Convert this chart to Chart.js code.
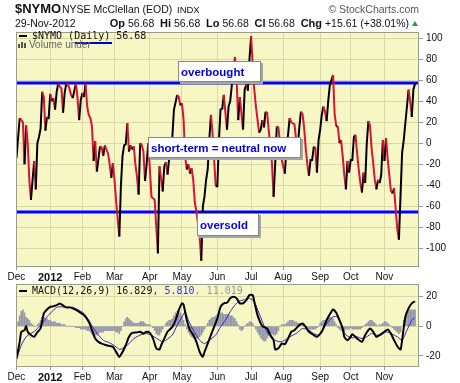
<!DOCTYPE html>
<html><head><meta charset="utf-8">
<script src="https://cdn.jsdelivr.net/npm/chart.js@4/dist/chart.umd.min.js"></script>
<style>
html,body{margin:0;padding:0;background:#fff;}
#wrap{position:relative;width:460px;height:383px;overflow:hidden;font-family:"Liberation Sans",Arial,sans-serif;color:#111;}
canvas{position:absolute;left:0;top:0;}
.t{position:absolute;white-space:nowrap;line-height:1;}
.mono{font-family:"DejaVu Sans Mono",monospace;font-size:10px;}
.box{position:absolute;box-sizing:border-box;background:#fff;border:1px solid #888;box-shadow:2px 2px 0 #a6a6a6;color:#0000e6;font-weight:bold;font-size:11.5px;display:flex;align-items:center;padding-left:2px;white-space:nowrap;z-index:5;}
.dash{position:absolute;background:#000;height:2px;width:8px;z-index:4;}
</style></head>
<body>
<div id="wrap">
<canvas id="c1" width="460" height="383"></canvas>
<canvas id="c2" width="460" height="383"></canvas>

<div class="t" style="left:15px;top:2.3px;font-size:13px;font-weight:bold;">$NYMO</div>
<div class="t" style="left:62px;top:4.4px;font-size:10.5px;">NYSE McClellan (EOD)</div>
<div class="t" style="left:177px;top:5.3px;font-size:9.5px;">INDX</div>
<div class="t" style="right:41px;top:4.4px;font-size:10.5px;color:#555;">© StockCharts.com</div>
<div class="t" style="left:15px;top:17.8px;font-size:10.5px;">29-Nov-2012</div>
<div class="t" style="right:51px;top:17.8px;font-size:10.5px;"><b style="font-size:11px">Op</b> 56.68 &nbsp;<b style="font-size:11px">Hi</b> 56.68 &nbsp;<b style="font-size:11px">Lo</b> 56.68 &nbsp;<b style="font-size:11px">Cl</b> 56.68 &nbsp;<b style="font-size:11px">Chg</b> +15.61 (+38.01%)</div>
<div style="position:absolute;left:412px;top:21px;width:0;height:0;border-left:3px solid transparent;border-right:3px solid transparent;border-bottom:5px solid #339933;"></div>

<div class="dash" style="left:19px;top:34.5px;"></div>
<div class="t mono" style="left:32px;top:30.8px;z-index:4;">$NYMO (Daily) 56.68</div>
<div style="position:absolute;left:75px;top:42px;width:37px;height:2px;background:#0000cc;z-index:4;"></div>
<div style="position:absolute;left:18px;top:44px;width:2px;height:4px;background:#555;z-index:4;"></div>
<div style="position:absolute;left:21px;top:42px;width:2px;height:6px;background:#555;z-index:4;"></div>
<div style="position:absolute;left:24px;top:43px;width:2px;height:5px;background:#555;z-index:4;"></div>
<div class="t" style="left:29px;top:40px;font-size:10px;color:#666;z-index:4;">Volume under</div>

<div class="box" style="left:178px;top:61px;width:83px;height:21px;">overbought</div>
<div class="box" style="left:148px;top:137px;width:153px;height:21px;">short-term = neutral now</div>
<div class="box" style="left:197px;top:213px;width:62px;height:23px;">oversold</div>

<div class="dash" style="left:19px;top:289.5px;"></div>
<div class="t mono" style="left:32px;top:285.7px;z-index:4;">MACD(12,26,9) 16.829<span style="color:#3333cc">, 5.810</span><span style="color:#999">, 11.019</span></div>
</div>

<script>
// ---- data ----
const monthLabels   = ['Dec','2012','Feb','Mar','Apr','May','Jun','Jul','Aug','Sep','Oct','Nov'];
const monthStartDay = [0, 21, 41, 61, 83, 103, 125, 146, 166, 189, 208, 229]; // trading-day index
const mainTicks = [-100,-80,-60,-40,-20,0,20,40,60,80,100];
const macdTicks = [-20,0,20];
const overboughtLevel = 57.5;
const oversoldLevel = -65.5;

const nymoDay = [0,2,3,4,5,6,7,8,9,11,12,13,14,15,16,17,18,19,20,21,22,23,24,25,26,27,28,29,30,31,32,33,34,35,36,37,38,39,40,41,42,43,44,45,46,47,48,49,50,52,53,54,55,56,57,58,59,60,61,62,64,65,66,67,68,69,70,71,72,73,74,75,76,77,78,79,80,81,82,83,84,86,88,89,91,92,93,94,95,96,97,98,100,101,102,103,104,105,106,107,108,109,110,111,112,114,115,116,117,118,119,120,121,122,124,125,126,127,128,129,131,132,133,134,136,137,138,139,141,142,143,144,145,146,147,148,149,151,152,153,154,155,156,157,158,159,160,161,162,163,164,165,166,167,168,169,170,171,172,173,174,175,176,177,178,179,180,181,182,183,184,185,186,187,188,189,190,191,192,193,194,195,196,197,198,199,200,201,202,203,204,205,206,207,208,209,210,211,212,213,214,215,216,217,218,219,220,221,222,223,224,225,226,227,228,229,230,231,232,233,234,235,236,237,238,239,240,241,242,243,244,245,246,247,248];
const nymoVal = [-14,24,22,20,-20,17,0,-35,-54,-17,-44,0,6,14,49,44,12,25,23,47,40,43,32,49,57,54,52,29,48,57,56,52,46,43,50,57,43,22,41,48,44,57,35,27,24,16,-17,2,-27,-3,-4,-12,-2,-6,-10,-20,-33,-19,-35,-55,-89,-40,-12,-2,-1,19,-8,-2,-6,-3,-20,-32,-49,0,-2,-8,-36,-20,0,-24,-51,-54,-105,-22,-46,-22,-18,-30,-15,-6,6,32,46,44,36,38,22,-13,-25,-20,-29,-24,-35,-57,-65,-89,-112,-60,-51,-35,-25,3,27,10,-41,-41,3,33,32,46,13,35,40,55,82,60,22,44,13,51,56,50,80,102,76,51,35,10,13,22,15,30,29,12,-3,-19,-51,-20,16,15,0,-15,-22,-29,-5,8,24,20,19,18,4,-5,15,30,28,15,-5,-20,-31,-16,-16,-4,-4,-28,3,13,27,35,30,21,40,55,60,65,28,16,16,0,3,-12,-30,-44,-17,-28,-16,-16,6,8,-10,-25,-38,-47,-28,-38,0,21,17,-5,-19,-35,-44,-35,-38,-30,3,-17,5,-15,-30,-45,-48,-43,-63,-82,-92,-50,-9,3,19,35,51,40,25,51,56.68];

const macdDay = [0,2,3,5,6,7,9,11,13,15,17,19,21,23,25,27,29,31,33,35,37,39,42,45,47,49,51,53,56,60,62,64,66,68,70,72,75,77,79,81,83,85,87,89,90,92,94,97,99,101,103,104,106,108,110,112,114,116,117,119,121,123,125,127,129,131,133,135,137,139,141,143,145,147,148,150,153,156,158,160,161,163,165,167,169,171,173,176,178,180,182,185,187,190,193,195,197,199,201,203,204,206,208,209,212,215,217,220,222,224,226,228,231,233,235,237,239,240,242,244,246,248];
const macdVal = [-22,-10.6,-3.8,-2.7,0,-3.8,-6,-7.2,-4,-1.6,8.6,11.3,13,13.5,14.2,15.4,14,12.7,12.7,12,11,9.7,7.5,2.9,-2.7,-8.4,-10.6,-11.8,-12.9,-14,-17.4,-20.8,-17.4,-12.9,-7.2,-4.5,-4.2,-3.8,-5,-3.8,-4.5,-8.4,-15,-15.8,-13,-8.4,-3.8,-0.5,4,10.8,15.4,14.5,4,-2.7,-6,-10.6,-17.4,-20.8,-17.4,-11.8,-6,-0.5,5.2,13,15.4,15.8,18.8,19.9,18.8,15.4,15.4,17.6,21,21,16.5,7.5,0,-1.6,-6,-9.5,-15.8,-15,-11.8,-12.2,-8.4,-3.8,-2.7,0.7,1.8,-0.5,-3.8,-6,-7.2,-3.8,4,8,11.3,9,4,-1.5,-7.2,-9.5,-7.2,-5.4,-8.4,-10.6,-6,-1.6,-3.8,-7.2,-6,-4.5,-2.3,-5,-9.5,-13.6,-15.8,-9.5,6.3,12,15.4,16.829];

const signalDay = [0,3,6,9,12,16,19,22,25,28,31,35,38,42,45,48,51,54,58,62,64,66,70,73,77,81,85,89,91,93,97,100,103,105,107,110,114,117,120,124,127,130,133,135,138,141,145,148,151,155,158,161,164,167,170,174,178,182,185,188,191,194,197,200,202,205,209,212,215,218,221,224,227,230,233,237,240,243,246,248];
const signalVal = [-22,-12.9,-7.2,-5,-2.7,1.8,6.3,9.7,12.7,13.1,12.7,12.7,11.3,8.6,4,-1.6,-6,-9.5,-11.3,-14,-15.8,-15,-11.8,-8.4,-6,-5,-6.8,-9.5,-10.6,-9.5,-6,0.7,6.3,9.7,4,-2.7,-9.5,-11.8,-9.5,-6,-0.5,4,9.7,13,16.5,17.6,18.8,16.5,8.6,-2,-7.2,-9.5,-10.6,-9.5,-7.2,-5,-1.6,-2.7,-5,-6,-1.6,2.9,6.3,6.3,1.8,-6,-7.9,-7.2,-8.4,-7.2,-5,-6,-6,-3.8,-5,-7.2,-9.5,-2.7,4,5.81];

// histogram, one value per trading day (index 0..248)
const histVal = [
 0,3,7,10,11,9,6,5,4,2,
 1,0,0,1,2,4,6,6,5,5,
 4,4,3,3,3,2,2,2,1,1,
 1,0,0,0,0,0,0,-1,-1,-1,
 -2,-2,-2,-2,-3,-3,-4,-5,-6,-6,
 -6,-5,-4,-4,-4,-3,-3,-3,-3,-3,
 -3,-3,-4,-4,-5,-3,0,3,5,6,
 5,4,3,2,2,2,2,3,3,3,
 2,1,1,1,0,-1,-3,-5,-6,-6,
 -4,-2,0,2,3,4,4,5,7,9,
 10,10,9,7,4,1,-2,-4,-6,-7,
 -8,-8,-8,-8,-7,-6,-4,-2,0,2,
 4,5,6,6,7,8,8,9,9,8,
 8,8,8,7,7,6,5,3,1,-2,
 -3,-2,0,1,2,3,3,2,0,-2,
 -4,-6,-8,-9,-10,-10,-8,-6,-5,-5,
 -6,-6,-5,-3,0,1,1,1,2,3,
 4,4,4,3,3,2,2,2,1,0,
 -1,-1,-2,-2,-2,-2,-2,-1,0,2,
 3,4,4,5,6,6,6,5,3,1,
 -1,-2,-3,-3,-3,-2,-2,-2,-1,-2,
 -2,-2,-2,-2,-2,-1,0,1,2,3,
 4,4,3,2,1,0,1,1,2,3,
 3,2,1,0,-1,-2,-3,-4,-5,-4,
 0,4,7,9,10,11,11,11,11];

// ---- styling ----
const BG = '#f7f7c6', GRID = '#d9d9a6', FONT = 'Liberation Sans';
const toXY = (xs, ys) => xs.map((x, i) => ({x, y: ys[i]}));

const plotFrame = {
  id: 'plotFrame',
  beforeDraw(chart) {
    const {ctx, chartArea: a} = chart;
    ctx.save(); ctx.fillStyle = BG;
    ctx.fillRect(a.left, a.top, a.right - a.left, a.bottom - a.top);
    ctx.restore();
  },
  afterDraw(chart) {
    const {ctx, chartArea: a} = chart;
    ctx.save(); ctx.strokeStyle = '#9c9c8c'; ctx.lineWidth = 1;
    ctx.strokeRect(Math.round(a.left) + 0.5, Math.round(a.top) + 0.5, Math.round(a.right - a.left) - 1, Math.round(a.bottom - a.top) - 1);
    ctx.restore();
  }
};
const levelLines = {
  id: 'levelLines',
  beforeDatasetsDraw(chart, args, opts) {
    if (!opts.levels) return;
    const {ctx, chartArea: a, scales: {y}} = chart;
    ctx.save(); ctx.strokeStyle = '#0000ff'; ctx.lineWidth = 3;
    opts.levels.forEach(l => {
      const py = y.getPixelForValue(l);
      ctx.beginPath(); ctx.moveTo(a.left, py); ctx.lineTo(a.right, py); ctx.stroke();
    });
    ctx.restore();
  }
};

function xScale() {
  return {
    type: 'linear', min: -0.3, max: 250.5, offset: false,
    afterBuildTicks: s => { s.ticks = monthStartDay.map(v => ({value: v})); },
    afterFit: s => { s.height = 16; },
    ticks: {
      autoSkip: false, maxRotation: 0, padding: 1, color: '#111',
      callback: v => monthLabels[monthStartDay.indexOf(v)],
      font: ctx => (ctx.tick && ctx.tick.value === monthStartDay[1])
        ? {family: FONT, size: 11, weight: 'bold'} : {family: FONT, size: 10}
    },
    grid: {color: GRID, tickColor: '#999', tickLength: 3, lineWidth: 1, offset: false},
    border: {display: false}
  };
}
function yScale(min, max, ticks) {
  return {
    type: 'linear', position: 'right', min, max,
    afterBuildTicks: s => { s.ticks = ticks.map(v => ({value: v})); },
    afterFit: s => { s.width = 41; },
    ticks: {color: '#111', padding: 3, font: {family: FONT, size: 10}},
    grid: {color: GRID, tickColor: '#999', tickLength: 4},
    border: {display: false}
  };
}

new Chart(document.getElementById('c1'), {
  type: 'line',
  data: {datasets: [{
    data: toXY(nymoDay, nymoVal),
    borderWidth: 2, pointRadius: 0, tension: 0, borderColor: '#000',
    segment: {borderColor: c => c.p1.parsed.y >= c.p0.parsed.y ? '#000000' : '#dd1133'}
  }]},
  options: {
    responsive: false, animation: false, devicePixelRatio: 1,
    layout: {padding: {left: 16, top: 32, right: 0, bottom: 100}},
    plugins: {legend: {display: false}, tooltip: {enabled: false},
              levelLines: {levels: [overboughtLevel, oversoldLevel]}},
    scales: {x: xScale(), y: yScale(-118, 106, mainTicks)}
  },
  plugins: [plotFrame, levelLines]
});

new Chart(document.getElementById('c2'), {
  type: 'bar',
  data: {datasets: [
    {type: 'line', data: toXY(macdDay, macdVal), borderColor: '#000', borderWidth: 2, pointRadius: 0, tension: 0.2, order: 1},
    {type: 'line', data: toXY(signalDay, signalVal), borderColor: '#3322cc', borderWidth: 1, pointRadius: 0, tension: 0.2, order: 2},
    {type: 'bar', data: histVal.map((v, i) => ({x: i, y: v})), backgroundColor: '#9494aa', barThickness: 1, grouped: false, order: 3}
  ]},
  options: {
    responsive: false, animation: false, devicePixelRatio: 1,
    layout: {padding: {left: 16, top: 284, right: 0, bottom: 0}},
    plugins: {legend: {display: false}, tooltip: {enabled: false}},
    scales: {x: xScale(), y: yScale(-27.6, 28.5, macdTicks)}
  },
  plugins: [plotFrame]
});
</script>
</body></html>
